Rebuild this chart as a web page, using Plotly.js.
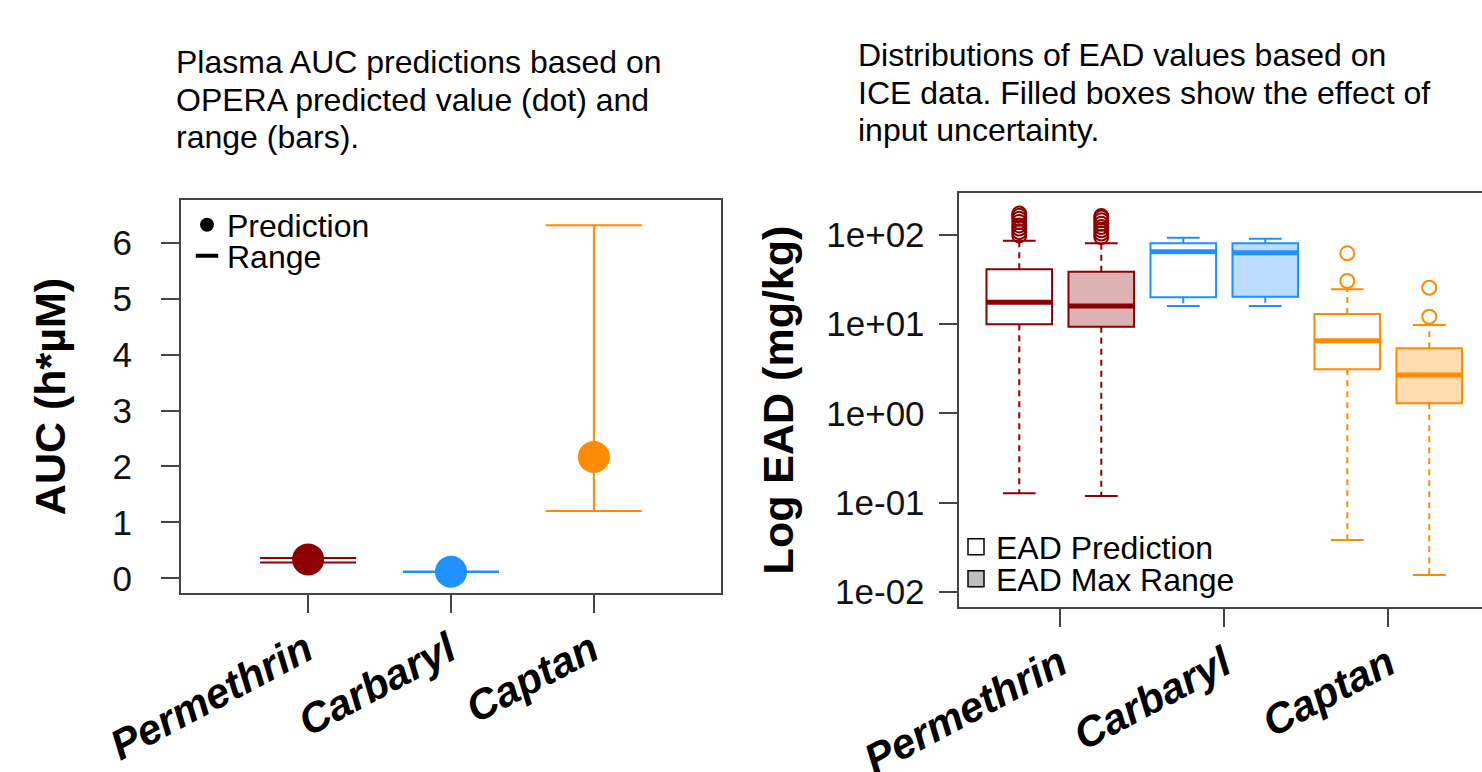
<!DOCTYPE html>
<html>
<head>
<meta charset="utf-8">
<script src="https://cdn.plot.ly/plotly-3.0.1.min.js"></script>
<style>
html,body{margin:0;padding:0;background:#ffffff;}
#chart{width:1482px;height:772px;}
</style>
</head>
<body>
<div id="chart"></div>
<script>
// ---------- data: left panel (plasma AUC) ----------
const chemicals = ['Permethrin', 'Carbaryl', 'Captan'];
const aucPrediction = [0.34, 0.12, 2.17];
const aucRangeLow = [0.285, 0.115, 1.205];
const aucRangeHigh = [0.367, 0.125, 6.31];
const chemColors = ['#8B0000', '#1E90FF', '#FF8C00'];
const chemFills = ['rgba(139,0,0,0.3)', 'rgba(30,144,255,0.3)', 'rgba(255,140,0,0.3)'];
const aucTicks = [0, 1, 2, 3, 4, 5, 6];

// ---------- data: right panel (EAD distributions) ----------
// order: Permethrin prediction, Permethrin max range, Carbaryl prediction, Carbaryl max range, Captan prediction, Captan max range
const eadChemIndex = [0, 0, 1, 1, 2, 2];
const eadFilled = [false, true, false, true, false, true];
const eadQ1 = [9.97, 9.37, 20.0, 20.3, 3.12, 1.30];
const eadMedian = [17.6, 16.0, 65.0, 63.2, 6.53, 2.69];
const eadQ3 = [41.2, 38.8, 80.7, 80.7, 13.0, 5.36];
const eadLowerWhisker = [0.127, 0.118, 16.0, 16.0, 0.038, 0.0154];
const eadUpperWhisker = [86.3, 80.7, 93.3, 90.9, 24.6, 9.79];
const eadOutliers = [
  [99, 108, 118, 128, 140, 152, 164, 174],
  [95, 104, 113, 123, 134, 146, 157, 163],
  [],
  [],
  [30.5, 62.3],
  [12.1, 25.6]
];
const eadTickVals = [0.01, 0.1, 1, 10, 100];
const eadTickText = ['1e-02', '1e-01', '1e+00', '1e+01', '1e+02'];

const subtitleLeft = ['Plasma AUC predictions based on', 'OPERA predicted value (dot) and', 'range (bars).'];
const subtitleRight = ['Distributions of EAD values based on', 'ICE data. Filled boxes show the effect of', 'input uncertainty.'];

// ---------- page geometry ----------
const W = 1482, H = 772;
const FONT = 'Liberation Sans, Arial, Helvetica, sans-serif';
const FRAME = '#444444';
const px = p => p / W;
const py = p => 1 - p / H;

const traces = [];

// left panel: range bars then prediction dots
const aucPos = chemicals.map((c, i) => i + 1);
chemicals.forEach((c, i) => {
  traces.push({
    type: 'scatter', mode: 'markers', xaxis: 'x', yaxis: 'y',
    x: [aucPos[i]], y: [aucPrediction[i]],
    marker: {color: 'rgba(0,0,0,0)', size: 2},
    error_y: {
      type: 'data', symmetric: false,
      array: [aucRangeHigh[i] - aucPrediction[i]],
      arrayminus: [aucPrediction[i] - aucRangeLow[i]],
      color: chemColors[i], thickness: 2, width: 48
    },
    showlegend: false, hoverinfo: 'skip'
  });
});
traces.push({
  type: 'scatter', mode: 'markers', xaxis: 'x', yaxis: 'y',
  x: aucPos, y: aucPrediction,
  marker: {color: chemColors, size: 32},
  showlegend: false, name: 'AUC', text: chemicals
});
// left legend entries
traces.push({
  type: 'scatter', mode: 'markers', xaxis: 'x', yaxis: 'y', legend: 'legend',
  x: [-100], y: [-100], name: 'Prediction',
  marker: {color: 'black', size: 14, symbol: 'circle'}, hoverinfo: 'skip'
});
traces.push({
  type: 'scatter', mode: 'markers', xaxis: 'x', yaxis: 'y', legend: 'legend3',
  x: [-100], y: [-100], name: 'Range',
  marker: {color: 'black', size: 16, symbol: 'line-ew-open', line: {color: 'black', width: 4}}, hoverinfo: 'skip'
});

// right panel: boxes
const HALF_BOX = 0.4, HALF_STAPLE = 0.2;
eadQ1.forEach((q1, i) => {
  const pos = i + 1;
  const col = chemColors[eadChemIndex[i]];
  const fill = eadFilled[i] ? chemFills[eadChemIndex[i]] : 'rgba(255,255,255,0)';
  traces.push({
    type: 'scatter', mode: 'lines', xaxis: 'x2', yaxis: 'y2',
    x: [pos, pos, null, pos, pos],
    y: [eadQ3[i], eadUpperWhisker[i], null, eadQ1[i], eadLowerWhisker[i]],
    line: {color: col, width: 2, dash: '6px,5px'},
    showlegend: false, hoverinfo: 'skip'
  });
  traces.push({
    type: 'scatter', mode: 'lines', xaxis: 'x2', yaxis: 'y2',
    x: [pos - HALF_STAPLE, pos + HALF_STAPLE, null, pos - HALF_STAPLE, pos + HALF_STAPLE],
    y: [eadUpperWhisker[i], eadUpperWhisker[i], null, eadLowerWhisker[i], eadLowerWhisker[i]],
    line: {color: col, width: 2},
    showlegend: false, hoverinfo: 'skip'
  });
  traces.push({
    type: 'box', xaxis: 'x2', yaxis: 'y2',
    x: [pos], q1: [eadQ1[i]], median: [eadMedian[i]], q3: [eadQ3[i]],
    lowerfence: [eadQ1[i]], upperfence: [eadQ3[i]],
    width: 2 * HALF_BOX, whiskerwidth: 0,
    line: {color: col, width: 2}, fillcolor: fill,
    boxpoints: false, showlegend: false, hoverinfo: 'skip'
  });
  traces.push({
    type: 'scatter', mode: 'lines', xaxis: 'x2', yaxis: 'y2',
    x: [pos - HALF_BOX, pos + HALF_BOX], y: [eadMedian[i], eadMedian[i]],
    line: {color: col, width: 5},
    showlegend: false, hoverinfo: 'skip'
  });
  if (eadOutliers[i].length) {
    traces.push({
      type: 'scatter', mode: 'markers', xaxis: 'x2', yaxis: 'y2',
      x: eadOutliers[i].map(() => pos), y: eadOutliers[i],
      marker: {symbol: 'circle-open', size: 14, color: col, line: {color: col, width: 2}},
      showlegend: false, hoverinfo: 'skip'
    });
  }
});
// right legend entries
traces.push({
  type: 'scatter', mode: 'markers', xaxis: 'x2', yaxis: 'y2', legend: 'legend2',
  x: [-100], y: [1e-6], name: 'EAD Prediction',
  marker: {symbol: 'square', size: 16, color: 'white', line: {color: 'black', width: 1.5}}, hoverinfo: 'skip'
});
traces.push({
  type: 'scatter', mode: 'markers', xaxis: 'x2', yaxis: 'y2', legend: 'legend4',
  x: [-100], y: [1e-6], name: 'EAD Max Range',
  marker: {symbol: 'square', size: 16, color: '#BEBEBE', line: {color: 'black', width: 1.5}}, hoverinfo: 'skip'
});

const tickFont = {family: FONT, size: 35, color: '#111'};
const catFont = {family: FONT, size: 42, color: '#000', weight: 'bold', style: 'italic'};
const titleFont = {family: FONT, size: 43, color: '#000', weight: 'bold'};
const legendFont = {family: FONT, size: 32, color: '#000'};

const axisCommon = {
  showline: true, linecolor: FRAME, linewidth: 2,
  ticks: 'outside', ticklen: 18, tickwidth: 2, tickcolor: FRAME,
  showgrid: false, zeroline: false, fixedrange: true
};

function legendAt(xPix, yPix) {
  return {
    x: px(xPix), y: py(yPix), xanchor: 'left', yanchor: 'middle',
    bgcolor: 'rgba(0,0,0,0)', borderwidth: 0, font: legendFont, itemwidth: 30
  };
}

function lineNotes(lines, xPix, topPix, step) {
  return lines.map((t, k) => ({
    xref: 'paper', yref: 'paper', x: px(xPix), y: py(topPix + k * step),
    xanchor: 'left', yanchor: 'top', align: 'left', showarrow: false,
    text: t, font: {family: FONT, size: 32, color: '#000'}
  }));
}

const layout = {
  width: W, height: H,
  margin: {l: 0, r: 0, t: 0, b: 0},
  paper_bgcolor: '#ffffff', plot_bgcolor: '#ffffff',
  showlegend: true,
  xaxis: Object.assign({}, axisCommon, {
    domain: [px(181), px(721)], range: [0.11, 3.89], anchor: 'y', mirror: true,
    tickmode: 'array', tickvals: aucPos, ticktext: chemicals,
    tickangle: -28, tickfont: catFont, ticklabelstandoff: -4, ticklabelshift: -2
  }),
  yaxis: Object.assign({}, axisCommon, {
    domain: [py(593), py(200)], range: [-0.26, 6.76], anchor: 'x', mirror: true,
    tickmode: 'array', tickvals: aucTicks, tickfont: tickFont, ticklabelstandoff: 22,
    title: {text: 'AUC (h*µM)', font: titleFont, standoff: 33}
  }),
  xaxis2: Object.assign({}, axisCommon, {
    domain: [px(958.6), 1], range: [0.26, 0.26 + (W - 958.6) / 82], anchor: 'y2', mirror: true,
    tickmode: 'array', tickvals: [1.5, 3.5, 5.5], ticktext: chemicals,
    tickangle: -28, tickfont: catFont, ticklabelstandoff: -4, ticklabelshift: 0
  }),
  yaxis2: Object.assign({}, axisCommon, {
    type: 'log', domain: [py(607), py(193)], range: [-2.172, 2.471], anchor: 'x2', mirror: false,
    tickmode: 'array', tickvals: eadTickVals, ticktext: eadTickText, tickfont: tickFont, ticklabelstandoff: 7,
    title: {text: 'Log EAD (mg/kg)', font: titleFont, standoff: 19}
  }),
  legend: legendAt(187, 225),
  legend3: legendAt(187, 256),
  legend2: legendAt(956, 547),
  legend4: legendAt(956, 579),
  annotations: lineNotes(subtitleLeft, 174, 42, 37.5).concat(lineNotes(subtitleRight, 856, 35, 37.5))
};

Plotly.newPlot('chart', traces, layout, {displayModeBar: false, staticPlot: true});
</script>
</body>
</html>
